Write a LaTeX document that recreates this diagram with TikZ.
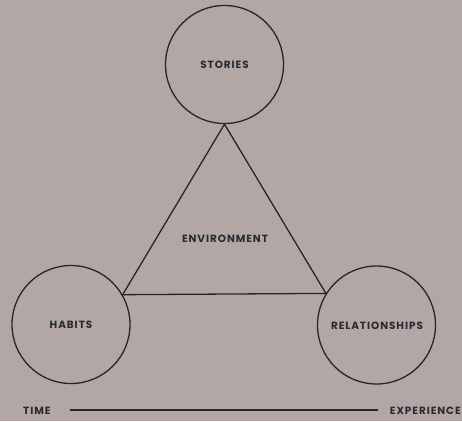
\documentclass[tikz,border=0pt]{standalone}
\usepackage{fontspec}
\setmainfont{Poppins}
\definecolor{bg}{RGB}{178,167,164}
\definecolor{ink}{RGB}{38,38,40}
\definecolor{txt}{RGB}{40,44,50}
\begin{document}
\begin{tikzpicture}[x=1bp,y=-1bp,
  ring/.style={circle,draw=ink,line width=1.3bp,minimum size=118bp,inner sep=0pt},
  lbl/.style={text=txt,font=\fontsize{10.5}{12}\selectfont\bfseries\addfontfeatures{LetterSpace=9}},
  edge/.style={draw=ink,line width=1.3bp}]
\fill[bg] (0,0) rectangle (462,421);
\useasboundingbox (0,0) rectangle (462,421);
\node[ring] (stories) at (224.5,64.5) {};
\node[ring] (habits) at (71,324.5) {};
\node[ring] (rel) at (376.5,325) {};
\node[lbl] (tstories) at (224.5,64.5) {STORIES};
\node[lbl] (thabits) at (71,325) {HABITS};
\node[lbl] (trel) at (377,326) {RELATIONSHIPS};
\node[lbl] (env) at (225,239) {ENVIRONMENT};
\draw[edge,line join=miter] (stories.south) -- (habits.30) -- (rel.148) -- cycle;
\node[lbl,anchor=west,inner sep=0pt] (time) at (23,411) {TIME};
\node[lbl,anchor=east,inner sep=0pt] (exp) at (461,411) {EXPERIENCE};
\draw[draw=ink,line width=1.2bp] ([xshift=19bp,yshift=1bp]time.east) -- ([xshift=-12bp,yshift=1bp]exp.west);
\end{tikzpicture}
\end{document}
